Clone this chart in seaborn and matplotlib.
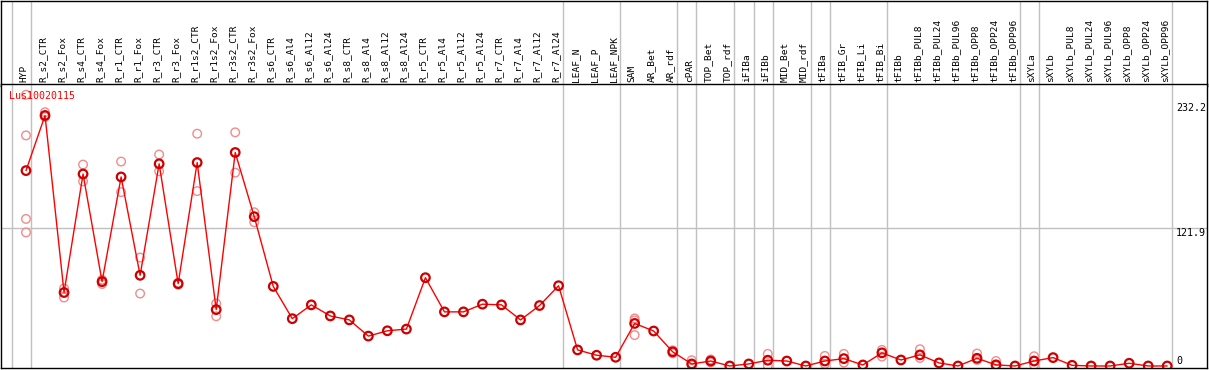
import matplotlib
matplotlib.use("Agg")
import matplotlib.pyplot as plt
import matplotlib.transforms as mtransforms
import seaborn as sns
import pandas as pd

categories = [
    "HYP", "R_s2_CTR", "R_s2_Fox", "R_s4_CTR", "R_s4_Fox", "R_r1_CTR", "R_r1_Fox",
    "R_r3_CTR", "R_r3_Fox", "R_r1s2_CTR", "R_r1s2_Fox", "R_r3s2_CTR", "R_r3s2_Fox",
    "R_s6_CTR", "R_s6_Al4", "R_s6_Al12", "R_s6_Al24", "R_s8_CTR", "R_s8_Al4",
    "R_s8_Al12", "R_s8_Al24", "R_r5_CTR", "R_r5_Al4", "R_r5_Al12", "R_r5_Al24",
    "R_r7_CTR", "R_r7_Al4", "R_r7_Al12", "R_r7_Al24", "LEAF_N", "LEAF_P", "LEAF_NPK",
    "SAM", "AR_Bet", "AR_rdf", "cPAR", "TOP_Bet", "TOP_rdf", "iFIBa", "iFIBb",
    "MID_Bet", "MID_rdf", "tFIBa", "tFIB_Gr", "tFIB_Li", "tFIB_Bi", "tFIBb",
    "tFIBb_PUL8", "tFIBb_PUL24", "tFIBb_PUL96", "tFIBb_OPP8", "tFIBb_OPP24",
    "tFIBb_OPP96", "sXYLa", "sXYLb", "sXYLb_PUL8", "sXYLb_PUL24", "sXYLb_PUL96",
    "sXYLb_OPP8", "sXYLb_OPP24", "sXYLb_OPP96",
]

mean_values = [
    172.6, 221.3, 64.9, 169.6, 74.5, 167.0, 80.1,
    178.6, 72.7, 179.7, 49.8, 188.6, 131.9,
    70.3, 41.8, 54.0, 44.2, 40.7, 26.4,
    31.1, 32.6, 78.0, 47.8, 47.8, 54.6,
    54.0, 40.7, 53.4, 70.9, 14.2, 9.5, 7.7,
    37.6, 30.9, 12.5, 1.8, 4.4, 0.0, 1.8, 5.1,
    4.4, 0.0, 4.4, 6.5, 0.9, 11.6, 5.3,
    9.8, 2.7, 0.0, 6.8, 1.0,
    0.0, 4.4, 7.4, 0.6, 0.0, 0.0,
    2.4, 0.0, 0.0,
]

replicates = [
    [239.6, 203.7, 129.9, 118.0], [224.2, 220.0], [68.5, 60.5], [177.9, 163.1],
    [76.2, 72.4], [180.6, 153.6], [95.8, 64.0], [186.8, 172.0], [73.5, 71.8],
    [205.2, 154.5], [55.2, 43.9], [206.4, 170.8], [135.8, 127.0],
    [], [], [], [], [], [], [], [], [], [], [], [], [], [], [], [],
    [], [], [],
    [42.0, 40.3, 27.3], [], [13.8, 11.2], [5.1, 0.5], [5.8, 3.2], [], [], [10.7, 0.3],
    [], [], [8.9, 1.8], [10.7, 3.0], [], [14.2, 8.3], [],
    [14.8, 7.1], [], [], [11.0, 5.3], [4.4, 0.0],
    [], [8.6, 0.9], [], [], [], [],
    [], [], [],
]

# index of the last category of each group (grid line drawn just after it)
group_ends = [-1, 0, 28, 31, 34, 35, 37, 38, 39, 41, 42, 45, 52, 53, 60]

title = "Lus10020115"
axis_labels = ["232.2", "121.9", "0"]
axis_values = [232.2, 121.9, 0.0]

W, H = 1209, 370
sns.set_style("white")
plt.rcParams["font.family"] = ["DejaVu Sans Mono", "DejaVu Sans"]

fig = plt.figure(figsize=(W / 100, H / 100), dpi=100)
ax_head = fig.add_axes([1 / W, (H - 86) / H, 1206 / W, 85.5 / H])
ax = fig.add_axes([1 / W, 2 / H, 1206 / W, 284 / H])

xmin, xmax = -25 / 19.02, 1181 / 19.02
for a in (ax_head, ax):
    a.set_xlim(xmin, xmax)
    a.set_xticks([])
    a.set_yticks([])
    for s in a.spines.values():
        s.set_color("black")
        s.set_linewidth(1.0)
    for g in group_ends:
        a.axvline(g + 0.25, color="#c0c0c0", lw=1, zorder=0)
ax_head.set_ylim(0, 1)
ax.set_ylim(-1.78, 249.1)

ax.axhline(121.9, color="#c0c0c0", lw=1, zorder=0)

pos = list(range(len(categories)))
df_mean = pd.DataFrame({"pos": pos, "value": mean_values})
rep_pos, rep_val = [], []
for i, reps in enumerate(replicates):
    for v in reps:
        rep_pos.append(i)
        rep_val.append(v)
df_rep = pd.DataFrame({"pos": rep_pos, "value": rep_val})

sns.scatterplot(data=df_rep, x="pos", y="value", ax=ax, marker="o", s=38,
                color="none", edgecolor="#f08c8c", linewidth=1.0, zorder=2,
                legend=False)
sns.lineplot(data=df_mean, x="pos", y="value", ax=ax, color="#ff0000", lw=1.0,
             zorder=3, legend=False)
sns.scatterplot(data=df_mean, x="pos", y="value", ax=ax, marker="o", s=38,
                color="none", edgecolor="#cc0000", linewidth=1.6, zorder=4,
                legend=False)
ax.set_xlabel("")
ax.set_ylabel("")

# category labels in the header
for i, c in enumerate(categories):
    ax_head.text(i - 0.12, 4 / 86, c, rotation=90, ha="center", va="bottom",
                 fontsize=6.8, color="black")

# title
ax.text(8 / 1206, 1 - 7 / 284, title, transform=ax.transAxes, ha="left", va="top",
        fontsize=7.2, color="#ff0000")

# right side value labels
trans = mtransforms.blended_transform_factory(ax.transAxes, ax.transData)
for lab, v in zip(axis_labels, axis_values):
    ax.text(1175 / 1206, v, lab, transform=trans, ha="left",
            va="top" if v > 0 else "bottom", fontsize=7.2, color="black",
            clip_on=True)

fig.savefig("out.png", dpi=100)
